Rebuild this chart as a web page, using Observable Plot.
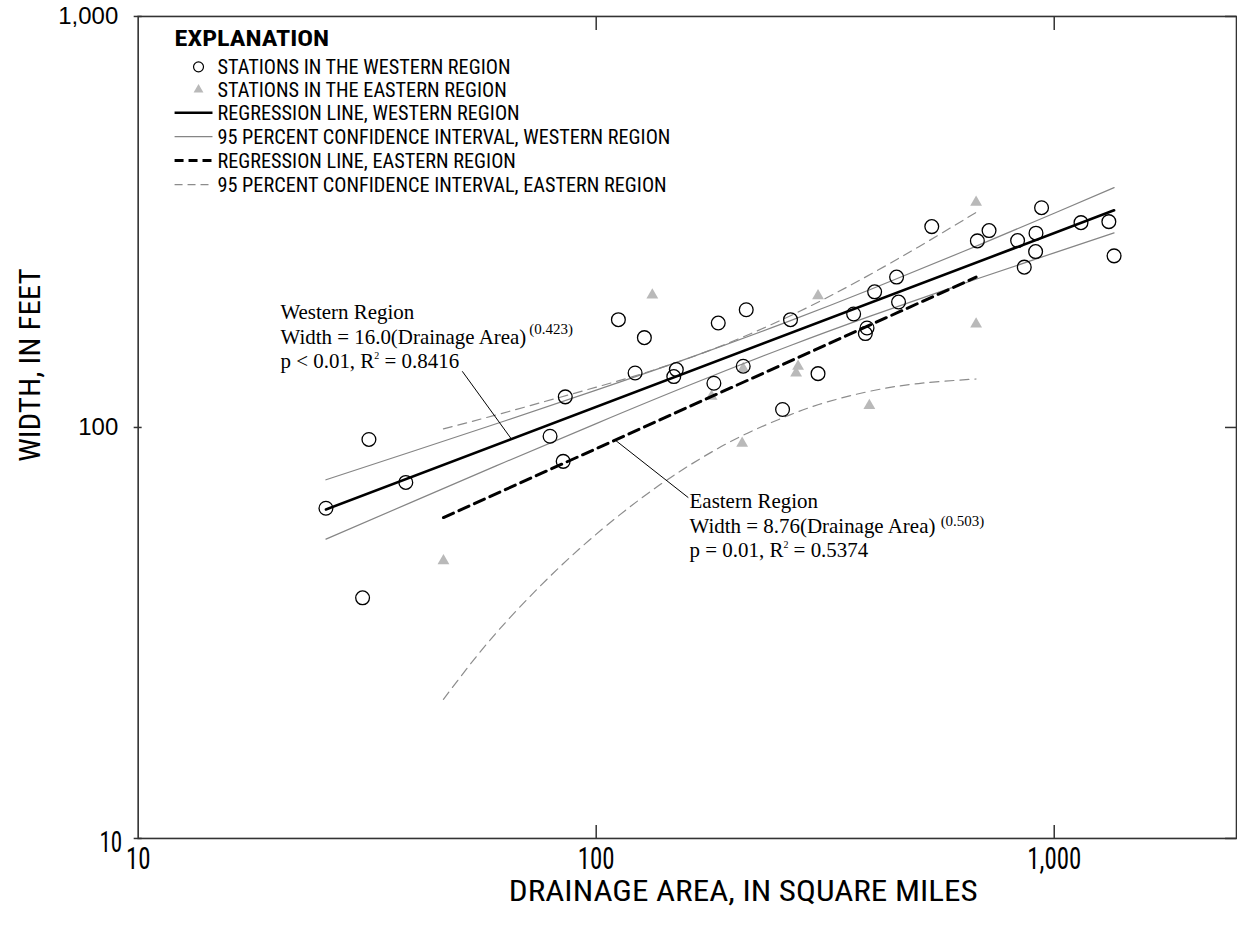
<!DOCTYPE html>
<html>
<head>
<meta charset="utf-8">
<script src="https://cdn.jsdelivr.net/npm/d3@7"></script>
<script src="https://cdn.jsdelivr.net/npm/@observablehq/plot@0.6"></script>
<style>
  html, body { margin: 0; padding: 0; background: #fff; overflow: hidden; }
  #chart { width: 1237px; height: 927px; overflow: hidden; position: relative; }
  #chart svg { display: block; }
</style>
</head>
<body>
<div id="chart"></div>
<script>
// ---- Stations, western region (drainage area in sq mi, channel width in ft)
const westArea  = [25.7, 30.9, 31.9, 38.4, 79.3, 84.7, 85.6, 111.8, 121.6, 127.4, 147.7, 149.6,
                   180.7, 184.7, 209.4, 212.6, 255.2, 265.6, 305, 364.8, 386.9, 390.2, 405.4, 452.7,
                   457.2, 540.3, 679.5, 720.6, 831.8, 860.2, 910.6, 912.4, 938.3, 1144, 1316, 1351];
const westWidth = [63.6, 38.5, 93.5, 73.5, 95.2, 82.7, 118.7, 182.9, 135.7, 165.4, 133.0, 138.3,
                   128.1, 179.5, 140.9, 193.4, 110.6, 182.9, 135.2, 188.8, 169.2, 174.6, 213.8, 232.2,
                   201.9, 308.1, 284.4, 301.3, 284.9, 245.5, 267.9, 297.0, 342.5, 315.0, 316.8, 261.5];

// ---- Stations, eastern region
const eastArea  = [46.4, 132.6, 178.6, 208.3, 209.4, 273.2, 275.9, 305, 394.8, 675.2, 675.2];
const eastWidth = [47.4, 210, 119.1, 91.5, 139, 135.7, 140.9, 209.1, 113.1, 353, 178.5];

// ---- Regression fits: Width = coef * (Drainage Area)^expo, drawn over the station range
const westCoef = 16.0, westExpo = 0.423, westSpan = [25.7, 1351];
const eastCoef = 8.76, eastExpo = 0.503, eastSpan = [46.4, 675.2];

// ---- 95 percent confidence interval, western region
const westCIArea = [25.7, 39.8, 63.1, 100, 158.5, 263, 398, 631, 1000, 1351];
const westCILow  = [53.5, 66.0, 82.3, 102.2, 126.3, 157.6, 186.8, 223.6, 266.0, 297.5];
const westCIHigh = [74.6, 87.5, 103.7, 123.3, 147.3, 181.2, 216.9, 267.6, 332.1, 383.4];

// ---- 95 percent confidence interval, eastern region
const eastHighArea = [46.4, 61.5, 83.1, 112.2, 151.6, 204.8, 276.8, 374.1, 505.4, 675.2];
const eastCIHigh   = [99.2, 107.8, 118.3, 130.0, 144.6, 164.4, 191.2, 227.4, 275.0, 333.5];
const eastLowArea  = [46.4, 52.9, 61.5, 75.1, 91.8, 112.2, 137.2, 167.7, 204.8, 250.4, 306.1, 393.3, 505.4, 675.2];
const eastCILow    = [21.8, 26.4, 32.3, 40.9, 50.6, 61.1, 72.3, 83.6, 94.6, 104.6, 113.7, 122.3, 127.9, 131.2];

// ---- Axis ticks and labels
const xTicks = [10, 100, 1000];
const yTicks = [10, 100, 1000];
const xTitle = "DRAINAGE AREA, IN SQUARE MILES";
const yTitle = "WIDTH, IN FEET";

// ---- Explanation entries
const legendTitle = "EXPLANATION";
const legendLabels = [
  "STATIONS IN THE WESTERN REGION",
  "STATIONS IN THE EASTERN REGION",
  "REGRESSION LINE, WESTERN REGION",
  "95 PERCENT CONFIDENCE INTERVAL, WESTERN REGION",
  "REGRESSION LINE, EASTERN REGION",
  "95 PERCENT CONFIDENCE INTERVAL, EASTERN REGION"
];

// ---- Regression notes
const westNote = ["Western Region", "Width = 16.0(Drainage Area)", "(0.423)", "p < 0.01, R", "2", " = 0.8416"];
const eastNote = ["Eastern Region", "Width = 8.76(Drainage Area) ", "(0.503)", "p = 0.01, R", "2", " = 0.5374"];

// ---- Build tables
const zip = (a, b) => a.map((v, i) => ({area: v, width: b[i]}));
const west = zip(westArea, westWidth);
const east = zip(eastArea, eastWidth);
const fit = (c, e, span) => span.map(a => ({area: a, width: c * Math.pow(a, e)}));
const westLine = fit(westCoef, westExpo, westSpan);
const eastLine = fit(eastCoef, eastExpo, eastSpan);
const westLo = zip(westCIArea, westCILow);
const westHi = zip(westCIArea, westCIHigh);
const eastHi = zip(eastHighArea, eastCIHigh);
const eastLo = zip(eastLowArea, eastCILow);

// leader lines from the notes to the fitted lines
const westLeaderArea = 65.3, eastLeaderArea = 110;
const leaders = [
  {x1: 51.0, y1: 137.0, x2: westLeaderArea, y2: westCoef * Math.pow(westLeaderArea, westExpo)},
  {x1: eastLeaderArea, y1: eastCoef * Math.pow(eastLeaderArea, eastExpo), x2: 158.9, y2: 67.5}
];

const fmt = d3.format(",");
const condensed = "'Liberation Sans Narrow', 'Arial Narrow', 'Roboto Condensed', 'DejaVu Sans Condensed', 'Liberation Sans', Arial, sans-serif";
const plain = "'Liberation Sans', Arial, sans-serif";

const plot = Plot.plot({
  width: 1240,
  height: 927,
  marginTop: 16,
  marginLeft: 138,
  marginRight: 1,
  marginBottom: 87,
  style: {background: "#fff", fontFamily: plain, overflow: "visible"},
  x: {type: "log", domain: [10, 2500], axis: null},
  y: {type: "log", domain: [10, 1000], axis: null},
  marks: [
    // eastern stations (under the lines)
    Plot.dot(east, {x: "area", y: "width", symbol: "triangle", r: 4.4, fill: "#b9b9b9", stroke: "none"}),

    // confidence intervals
    Plot.line(eastHi, {x: "area", y: "width", curve: "natural", stroke: "#8c8c8c", strokeWidth: 1.2, strokeDasharray: "9,6"}),
    Plot.line(eastLo, {x: "area", y: "width", curve: "natural", stroke: "#8c8c8c", strokeWidth: 1.2, strokeDasharray: "9,6"}),
    Plot.line(westLo, {x: "area", y: "width", curve: "natural", stroke: "#858585", strokeWidth: 1.2}),
    Plot.line(westHi, {x: "area", y: "width", curve: "natural", stroke: "#858585", strokeWidth: 1.2}),

    // regression lines
    Plot.line(eastLine, {x: "area", y: "width", stroke: "#000", strokeWidth: 3, strokeDasharray: "11,6"}),
    Plot.line(westLine, {x: "area", y: "width", stroke: "#000", strokeWidth: 2.6}),

    // leader lines for the notes
    Plot.link(leaders, {x1: "x1", y1: "y1", x2: "x2", y2: "y2", stroke: "#000", strokeWidth: 1}),

    // western stations (hollow circles)
    Plot.dot(west, {x: "area", y: "width", r: 6.9, fill: "none", stroke: "#000", strokeWidth: 1.3}),

    // frame and inward ticks
    Plot.frame({stroke: "#333", strokeWidth: 1.6}),
    Plot.ruleX(xTicks.slice(1), {insetTop: 811, stroke: "#333", strokeWidth: 1.5}),
    Plot.ruleX(xTicks.slice(1), {insetBottom: 810, stroke: "#333", strokeWidth: 1.5}),
    Plot.ruleY(yTicks, {insetLeft: 1090, stroke: "#333", strokeWidth: 1.5}),
    Plot.ruleY(yTicks, {insetLeft: -4, insetRight: 1097, stroke: "#333", strokeWidth: 1.5}),

    // tick labels
    Plot.text(xTicks, {x: d => d, frameAnchor: "bottom", dy: 31, text: d => fmt(d), fontSize: 32, fill: "#000", fontFamily: condensed}),
    Plot.text(yTicks, {y: d => d, frameAnchor: "left", dx: -20, textAnchor: "end", text: d => fmt(d), fontSize: 24, fill: "#000", fontFamily: plain})
  ]
});

document.getElementById("chart").appendChild(plot);
const svg = d3.select(plot);

// squeeze a text element to a given width (condensed type)
function squeeze(el, target) {
  el.setAttribute("textLength", target);
  el.setAttribute("lengthAdjust", "spacingAndGlyphs");
}

// tick labels: x labels condensed and centred on their ticks; the lowest y label set lower, condensed
const xTickText = new Set(xTicks.map(fmt));
svg.selectAll("text").each(function () {
  const g = this.closest("g");
  const isY = g && g.getAttribute("text-anchor") === "end";
  if (isY) {
    if (this.textContent === fmt(yTicks[0])) {
      this.style.fontFamily = condensed;
      this.style.fontSize = "29px";
      const w = this.getComputedTextLength();
      squeeze(this, w * 0.8);
      const tr = this.getAttribute("transform") || "";
      this.setAttribute("transform", (tr + " translate(4,4)").trim());
    }
    return;
  }
  if (!xTickText.has(this.textContent)) return;
  const w = this.getComputedTextLength();
  const target = w * 0.78;
  this.setAttribute("text-anchor", "start");
  const tx = +(this.getAttribute("x") || 0);
  this.setAttribute("x", tx - target / 2);
  squeeze(this, target);
});

// ---- Axis titles
const xt = svg.append("text").attr("text-anchor", "start").attr("x", 510).attr("y", 903)
  .attr("font-family", condensed).attr("font-size", 30).attr("fill", "#000").text(xTitle);
squeeze(xt.node(), 470);
const yt = svg.append("text").attr("text-anchor", "start")
  .attr("transform", "translate(40,366) rotate(-90)").attr("x", -97).attr("y", 0)
  .attr("font-family", condensed).attr("font-size", 30).attr("fill", "#000").text(yTitle);
squeeze(yt.node(), 194);

// ---- Explanation box
const lg = svg.append("g").attr("text-anchor", "start");
const rowY = [67, 90, 113, 137, 161, 185];
const t0 = lg.append("text").attr("x", 175).attr("y", 46).text(legendTitle)
  .attr("font-family", condensed).attr("font-weight", "bold").attr("font-size", 23).attr("fill", "#000");
squeeze(t0.node(), 155);

const probe = lg.append("text").attr("font-family", condensed).attr("font-size", 20).text(legendLabels[3]);
const factor = 454 / probe.node().getComputedTextLength();
probe.remove();

legendLabels.forEach((label, i) => {
  const t = lg.append("text").attr("x", 218).attr("y", rowY[i] + 7).text(label)
    .attr("font-family", condensed).attr("font-size", 20).attr("fill", "#000");
  squeeze(t.node(), t.node().getComputedTextLength() * factor);
});
lg.append("circle").attr("cx", 199).attr("cy", rowY[0]).attr("r", 5).attr("fill", "none").attr("stroke", "#000").attr("stroke-width", 1.2);
lg.append("path").attr("d", d3.symbol(d3.symbolTriangle, 42)()).attr("transform", `translate(199,${rowY[1]})`).attr("fill", "#b9b9b9");
const sample = (i, w, color, dash) => lg.append("line").attr("x1", 175).attr("x2", 213)
  .attr("y1", rowY[i]).attr("y2", rowY[i]).attr("stroke", color).attr("stroke-width", w)
  .attr("stroke-dasharray", dash);
sample(2, 2.6, "#000", null);
sample(3, 1.2, "#858585", null);
sample(4, 3, "#000", "9,5");
sample(5, 1.2, "#8c8c8c", "8,5");

// ---- Regression notes, placed through the plot's scales
const sx = plot.scale("x"), sy = plot.scale("y");
function note(lines, area, width, supGap, supRaise) {
  const x = sx.apply(area), y = sy.apply(width);
  const g = svg.append("g").attr("text-anchor", "start")
    .attr("font-family", "'Liberation Serif', 'Times New Roman', serif")
    .attr("font-size", 21).attr("fill", "#000");
  g.append("text").attr("x", x).attr("y", y).text(lines[0]);
  const l2 = g.append("text").attr("x", x).attr("y", y + 25);
  l2.append("tspan").text(lines[1]);
  l2.append("tspan").attr("dx", supGap).attr("dy", -supRaise).attr("font-size", 15).text(lines[2]);
  const l3 = g.append("text").attr("x", x).attr("y", y + 49);
  l3.append("tspan").text(lines[3]);
  l3.append("tspan").attr("dy", -9).attr("font-size", 10).text(lines[4]);
  l3.append("tspan").attr("dy", 9).text(lines[5]);
}
note(westNote, 20.5, 182.9, 3, 10);
note(eastNote, 160.3, 63.6, 0, 7);
</script>
</body>
</html>
